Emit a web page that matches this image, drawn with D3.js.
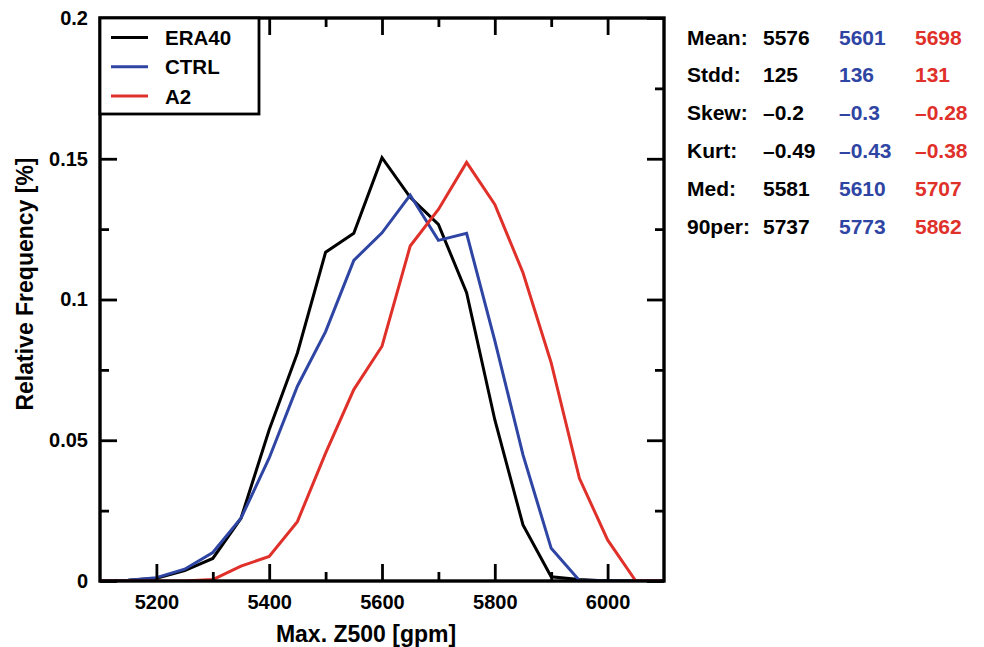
<!DOCTYPE html>
<html>
<head>
<meta charset="utf-8">
<script src="https://cdn.jsdelivr.net/npm/d3@7"></script>
<style>
  body { margin: 0; background: #fff; }
  svg text { font-family: "Liberation Sans", Arial, Helvetica, sans-serif; font-weight: bold; }
</style>
</head>
<body>
<svg id="chart" width="984" height="647"></svg>
<script>
//  data, one value every 50 gpm
const z500 = [5100, 5150, 5200, 5250, 5300, 5350, 5400, 5450, 5500, 5550, 5600,
              5650, 5700, 5750, 5800, 5850, 5900, 5950, 6000, 6050, 6100];
const era40 = [0, 0.0003, 0.001, 0.0037, 0.008, 0.0223, 0.0537, 0.081, 0.1168, 0.1235, 0.1504,
               0.1363, 0.1267, 0.1024, 0.0573, 0.0199, 0.0015, 0.0005, 0, 0, 0];
const ctrl = [0, 0.0003, 0.0012, 0.0042, 0.0101, 0.0223, 0.0437, 0.0692, 0.0886, 0.1139, 0.1237,
              0.1371, 0.121, 0.1235, 0.0854, 0.0448, 0.0116, 0.0002, 0.0001, 0, 0];
const a2 = [0, 0, 0, 0, 0.0005, 0.0053, 0.0087, 0.0211, 0.0454, 0.068, 0.0834,
            0.119, 0.132, 0.1487, 0.1338, 0.1095, 0.0775, 0.0365, 0.0146, 0, 0];

const series_names = ["ERA40", "CTRL", "A2"];
const series_colors = ["#000000", "#2f45a3", "#e0302a"];

//  statistics table
const stat_labels = ["Mean:", "Stdd:", "Skew:", "Kurt:", "Med:", "90per:"];
const stat_era40 = ["5576", "125", "–0.2", "–0.49", "5581", "5737"];
const stat_ctrl = ["5601", "136", "–0.3", "–0.43", "5610", "5773"];
const stat_a2 = ["5698", "131", "–0.28", "–0.38", "5707", "5862"];

const x_major = [5200, 5400, 5600, 5800, 6000];
const x_minor = [5300, 5500, 5700, 5900];
const y_major = [0, 0.05, 0.1, 0.15, 0.2];
const y_minor = [0.025, 0.075, 0.125, 0.175];

function draw_chart() {
  const margin = ({top: 18, right: 320, bottom: 66, left: 100})
  const w = 984
  const h = 647
  const left = margin.left, right = w - margin.right, top = margin.top, bottom = h - margin.bottom

  const svg = d3.select("#chart")
  svg.selectAll('*').remove()

  const x = d3.scaleLinear().domain([5100, 6100]).range([left, right])
  const y = d3.scaleLinear().domain([0, 0.2]).range([bottom, top])

  //  lines
  const line = d3.line().x((_, i) => x(z500[i])).y(d => y(d))
  const clip = svg.append("clipPath").attr("id", "plotclip")
  clip.append("rect").attr("x", left).attr("y", top).attr("width", right - left).attr("height", bottom - top)

  const g_lines = svg.append("g").attr("clip-path", "url(#plotclip)")
  ;[era40, ctrl, a2].forEach((s, i) => {
    g_lines.append("path")
      .datum(s)
      .attr("d", line)
      .attr("fill", "none")
      .attr("stroke", series_colors[i])
      .attr("stroke-width", 3)
      .attr("stroke-linejoin", "miter")
  })

  //  axes (ticks inward on all four sides)
  const fmt_y = d => String(+d.toFixed(2))
  const style_axis = (g) => {
    g.select(".domain").remove()
    g.selectAll(".tick line").attr("stroke", "#000").attr("stroke-width", 2.8)
    g.selectAll(".tick text").attr("fill", "#000").style("font-size", "20px")
  }

  svg.append("g").attr("transform", `translate(0,${bottom})`)
    .call(d3.axisBottom(x).tickValues(x_major).tickSize(-17).tickFormat(d3.format("d")))
    .call(style_axis)
    .selectAll(".tick text").attr("y", 28).attr("dy", 0)
  svg.append("g").attr("transform", `translate(0,${bottom})`)
    .call(d3.axisBottom(x).tickValues(x_minor).tickSize(-9).tickFormat(""))
    .call(style_axis)
  svg.append("g").attr("transform", `translate(0,${top})`)
    .call(d3.axisTop(x).tickValues(x_major).tickSize(-17).tickFormat(""))
    .call(style_axis)
  svg.append("g").attr("transform", `translate(0,${top})`)
    .call(d3.axisTop(x).tickValues(x_minor).tickSize(-9).tickFormat(""))
    .call(style_axis)

  svg.append("g").attr("transform", `translate(${left},0)`)
    .call(d3.axisLeft(y).tickValues(y_major).tickSize(-17).tickPadding(12).tickFormat(fmt_y))
    .call(style_axis)
  svg.append("g").attr("transform", `translate(${left},0)`)
    .call(d3.axisLeft(y).tickValues(y_minor).tickSize(-9).tickFormat(""))
    .call(style_axis)
  svg.append("g").attr("transform", `translate(${right},0)`)
    .call(d3.axisRight(y).tickValues(y_major).tickSize(-17).tickFormat(""))
    .call(style_axis)
  svg.append("g").attr("transform", `translate(${right},0)`)
    .call(d3.axisRight(y).tickValues(y_minor).tickSize(-9).tickFormat(""))
    .call(style_axis)

  //  frame
  svg.append("rect")
    .attr("x", left).attr("y", top)
    .attr("width", right - left).attr("height", bottom - top)
    .attr("fill", "none").attr("stroke", "#000").attr("stroke-width", 3.4)

  //  axis titles
  svg.append("text")
    .attr("x", 366).attr("y", 642)
    .attr("text-anchor", "middle")
    .style("font-size", "23px")
    .text("Max. Z500 [gpm]")

  svg.append("text")
    .attr("transform", "translate(33,284) rotate(-90)")
    .attr("text-anchor", "middle")
    .style("font-size", "23px")
    .text("Relative Frequency [%]")

  //  legend
  const lg = svg.append("g")
  lg.append("rect")
    .attr("x", left).attr("y", top)
    .attr("width", 159).attr("height", 96)
    .attr("fill", "#fff").attr("stroke", "#000").attr("stroke-width", 2.8)
  series_names.forEach((name, i) => {
    const ly = top + 19.5 + i * 29.3
    lg.append("line")
      .attr("x1", left + 11).attr("x2", left + 48)
      .attr("y1", ly).attr("y2", ly)
      .attr("stroke", series_colors[i]).attr("stroke-width", 3)
    lg.append("text")
      .attr("x", left + 65).attr("y", ly + 7.5)
      .style("font-size", "20.5px")
      .text(name)
  })

  //  statistics
  const cols = [687, 763, 839, 915]
  const rows = stat_labels.map((_, i) => 44.5 + i * 37.8)
  const st = svg.append("g").style("font-size", "21px")
  stat_labels.forEach((lab, i) => {
    st.append("text").attr("x", cols[0]).attr("y", rows[i]).attr("fill", "#000").text(lab)
    st.append("text").attr("x", cols[1]).attr("y", rows[i]).attr("fill", series_colors[0]).text(stat_era40[i])
    st.append("text").attr("x", cols[2]).attr("y", rows[i]).attr("fill", series_colors[1]).text(stat_ctrl[i])
    st.append("text").attr("x", cols[3]).attr("y", rows[i]).attr("fill", series_colors[2]).text(stat_a2[i])
  })
}

draw_chart();
</script>
</body>
</html>
